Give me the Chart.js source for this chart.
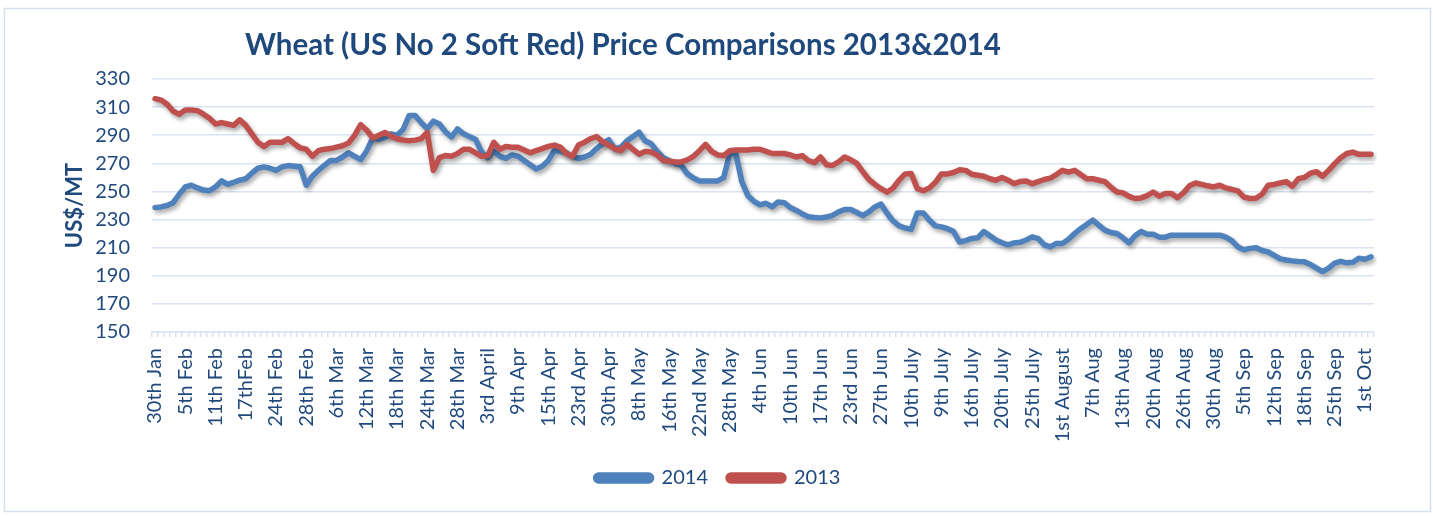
<!DOCTYPE html>
<html>
<head>
<meta charset="utf-8">
<script src="https://cdn.jsdelivr.net/npm/chart.js@4.4.1/dist/chart.umd.min.js"></script>
<style>
  html, body { margin: 0; padding: 0; background: #ffffff; }
  #wrap { width: 1433px; height: 516px; }
</style>
</head>
<body>
<div id="wrap"><canvas id="c" width="1433" height="516"></canvas></div>
<script>
// ---- data ----
const tickLabels = [
  '30th Jan', '5th Feb', '11th Feb', '17thFeb', '24th Feb', '28th Feb', '6th Mar', '12th Mar',
  '18th Mar', '24th Mar', '28th Mar', '3rd April', '9th Apr', '15th Apr', '23rd Apr', '30th Apr',
  '8th May', '16th May', '22nd May', '28th May', '4th Jun', '10th Jun', '17th Jun', '23rd Jun',
  '27th Jun', '10th July', '9th July', '16th July', '20th July', '25th July', '1st August', '7th Aug',
  '13th Aug', '20th Aug', '26th Aug', '30th Aug', '5th Sep', '12th Sep', '18th Sep', '25th Sep', '1st Oct'
];
const labelEvery = 5;

const series2014 = [
  238.5, 239, 240, 242, 248, 253.2, 254.4, 252.5, 251, 250.5,
  253.2, 257.5, 255, 256.5, 258, 259, 263, 266.5, 267.5, 266.5,
  265, 267.5, 268.4, 268, 267.5, 254.5, 260.8, 265, 268.6, 272,
  272.1, 274.5, 277.5, 275, 272.6, 279, 288, 287, 288.5, 291,
  290, 294, 304, 304, 299, 294.6, 300, 298, 292.5, 288.7,
  294.5, 291, 289, 287, 278, 274, 278.8, 275, 273.5, 276,
  275, 272, 269, 266, 268, 272, 279, 278.5, 277.5, 275,
  273.5, 274.5, 276.5, 280.5, 284, 286.8, 280.4, 281.5, 286, 289,
  292.2, 286, 284, 278.5, 274, 272, 269.8, 268.6, 262.5, 259.5,
  257.5, 257.5, 257.5, 257.5, 259.9, 276.9, 276.9, 257, 247, 243,
  240.5, 241.6, 239, 242.5, 242, 238.5, 236.5, 234, 232, 231.5,
  231.2, 231.8, 233, 235.5, 237.2, 237.2, 235, 232.8, 235.5, 239,
  241, 234.5, 229, 225.5, 224, 223, 234.7, 234.7, 229.5, 225.5,
  224.8, 223.5, 221.5, 214, 215, 216.6, 217, 221.5, 218.5, 215.4,
  213.5, 212, 213.4, 213.8, 215.5, 217.7, 216.5, 212, 210.5, 213,
  213, 216, 220, 223.5, 226.5, 229.6, 226, 222.5, 220.8, 220.1,
  217, 213.5, 218.5, 221.5, 219.6, 219.6, 217.5, 217.5, 218.9, 218.9,
  218.9, 218.9, 218.9, 218.9, 218.9, 218.9, 218.9, 217.5, 215, 210.5,
  208.5, 209.5, 210, 208, 207, 204.5, 202, 201.2, 200.6, 200.2,
  199.9, 198, 195.5, 193, 195.5, 199, 200.3, 199.2, 199.6, 202.5,
  201.8, 203.5
];

const series2013 = [
  316, 315, 312, 307, 305, 308, 308, 307.5, 305, 302,
  298, 299, 298, 297, 301, 297, 291, 285, 282, 285,
  285, 285, 287.5, 284, 281, 280, 275, 279, 280, 280.5,
  281.5, 282.5, 284.5, 290, 297.5, 293.5, 288, 290, 292, 289.5,
  287.5, 286.5, 286, 286.5, 287.5, 292, 265, 274, 275.5, 275,
  277, 280, 280, 277.5, 275, 275.5, 285, 280, 282, 281.5,
  281.5, 279.5, 277.5, 279, 280.5, 282, 283, 281.5, 277, 275,
  283, 285, 287.5, 289, 285.5, 283, 280.5, 279, 283.5, 280,
  276.5, 278.5, 278, 276, 272, 271.5, 271, 271, 272.5, 275,
  279, 283.5, 278.5, 276, 275.5, 279, 279.5, 279.5, 279.5, 280,
  280, 278.5, 277, 277, 277, 276, 274.5, 275.5, 272, 270.5,
  274.5, 269, 268.5, 271, 274.5, 272.5, 270, 264, 258.5, 255,
  252, 249.5, 252.5, 258, 262.5, 262.7, 252, 250.5, 252.5, 256.5,
  262.5, 262.5, 263.5, 265.5, 265, 262.2, 261.5, 260.8, 259, 258,
  260, 258, 255.5, 257, 257.5, 255.5, 257, 258.5, 259.5, 262,
  265, 263.8, 265, 262, 259, 259, 258, 257, 253, 249.6,
  249, 246.5, 245, 245.4, 247, 249.6, 246.6, 248.5, 248.5, 245.6,
  249, 254, 256, 255, 254, 253.2, 254.4, 252.5, 251.5, 250.4,
  246, 245, 245.2, 248, 254.4, 255, 256, 257, 253.7, 259,
  260, 263, 264, 260.8, 265, 269.8, 274, 277, 278, 276.4,
  276.4, 276.4
];

const yTicks = { min: 150, max: 330, step: 20 };
const chartTitle = 'Wheat (US No 2 Soft Red) Price Comparisons 2013&2014';
const yTitle = 'US$/MT';

// ---- chart ----
const categories = series2014.map((_, i) => (i % labelEvery === 0 ? (tickLabels[i / labelEvery] || '') : ''));

const BLUE = '#4F81BD';
const RED = '#C0504D';
const TEXT = '#1F497D';
const GRID = '#D9E3F1';
const FONT = 'Lato, "Open Sans", sans-serif';

const framePlugin = {
  id: 'frame',
  beforeDraw(chart) {
    const ctx = chart.ctx;
    ctx.save();
    ctx.fillStyle = '#ffffff';
    ctx.fillRect(0, 0, chart.width, chart.height);
    ctx.strokeStyle = '#D5DFEE';
    ctx.lineWidth = 1.5;
    ctx.strokeRect(4.5, 8.5, 1426, 503);
    ctx.restore();
  },
  afterDraw(chart) {
    const ctx = chart.ctx;
    ctx.save();
    ctx.font = 'bold 29.5px ' + FONT;
    ctx.fillStyle = TEXT;
    ctx.textAlign = 'left';
    ctx.textBaseline = 'middle';
    ctx.fillText(chartTitle, 245, 45);
    ctx.restore();
  }
};

const shadowPlugin = {
  id: 'lineShadow',
  beforeDatasetDraw(chart) {
    const ctx = chart.ctx;
    ctx.save();
    ctx.shadowColor = 'rgba(0,0,0,0.35)';
    ctx.shadowBlur = 4;
    ctx.shadowOffsetX = 2;
    ctx.shadowOffsetY = 3;
  },
  afterDatasetDraw(chart) {
    chart.ctx.restore();
  }
};

new Chart(document.getElementById('c'), {
  type: 'line',
  data: {
    labels: categories,
    datasets: [
      {
        label: '2014', data: series2014, order: 1,
        borderColor: BLUE, backgroundColor: BLUE, borderWidth: 5.5,
        pointRadius: 0, tension: 0, borderJoinStyle: 'round', borderCapStyle: 'round'
      },
      {
        label: '2013', data: series2013, order: 0,
        borderColor: RED, backgroundColor: RED, borderWidth: 5.5,
        pointRadius: 0, tension: 0, borderJoinStyle: 'round', borderCapStyle: 'round'
      }
    ]
  },
  options: {
    responsive: false,
    animation: false,
    layout: { padding: { left: 62, right: 59, top: 79, bottom: 18 } },
    plugins: {
      title: { display: false },
      tooltip: { enabled: false },
      legend: {
        position: 'bottom',
        labels: {
          sort: (a, b) => a.datasetIndex - b.datasetIndex,
          boxWidth: 56, boxHeight: 6, useBorderRadius: true, borderRadius: 3,
          color: TEXT, font: { family: FONT, size: 20 }, padding: 20
        }
      }
    },
    scales: {
      x: {
        type: 'category',
        offset: true,
        grid: { offset: true, drawOnChartArea: false, drawTicks: true, tickLength: 5, color: GRID, lineWidth: 1.5 },
        border: { display: true, color: GRID, width: 1.5 },
        ticks: {
          autoSkip: false, minRotation: 90, maxRotation: 90, padding: 11,
          color: TEXT, font: { family: FONT, size: 20 }
        },
        afterFit(scale) { scale.height = 116; }
      },
      y: {
        min: yTicks.min, max: yTicks.max,
        grid: { color: GRID, lineWidth: 1.5, drawTicks: false },
        border: { display: false },
        ticks: { stepSize: yTicks.step, autoSkip: false, padding: 22, color: TEXT, font: { family: FONT, size: 20 } },
        title: { display: true, text: yTitle, color: TEXT, font: { family: FONT, size: 22, weight: 'bold' }, padding: 0 },
        afterFit(scale) { scale.width = 90; }
      }
    }
  },
  plugins: [framePlugin, shadowPlugin]
});
</script>
</body>
</html>
